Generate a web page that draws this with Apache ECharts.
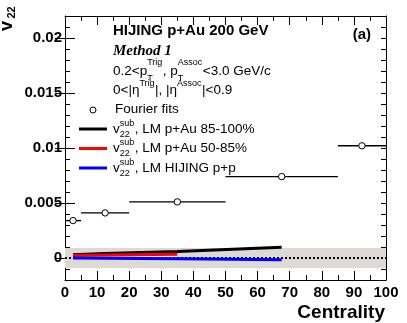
<!DOCTYPE html>
<html>
<head>
<meta charset="utf-8">
<script src="https://cdn.jsdelivr.net/npm/echarts@6/dist/echarts.min.js"></script>
<style>html,body{margin:0;padding:0;background:#fff}#main{width:407px;height:323px}</style>
</head>
<body>
<div id="main"></div>
<script>
// Fourier fits (open circles, x error = centrality bin)
var fitX = [2.5, 12.5, 35, 67.5, 92.5];
var fitLow = [0, 5, 20, 50, 85];
var fitHigh = [5, 20, 50, 85, 100];
var fitV22 = [0.0034, 0.0041, 0.0051, 0.0074, 0.0102];

// v22 sub, LM curves
var lmX = [2.5, 12.5, 35, 67.5];
var lmPAu85 = [0.0003, 0.0004, 0.0006, 0.00097];
var lmX50 = [2.5, 12.5, 35];
var lmPAu50 = [0.00022, 0.00027, 0.00035];
var lmPP = [0.0, -0.00002, -0.00006, -0.00015];

// systematic band around zero
var bandX = [0, 100];
var bandY = [-0.0009, 0.0009];

var yTickValues = [0, 0.005, 0.01, 0.015, 0.02];
var yTickLabels = ['0', '0.005', '0.01', '0.015', '0.02'];

var FONT = '"Liberation Sans", Arial, Helvetica, sans-serif';
var ctx = document.createElement('canvas').getContext('2d');
function tw(t, size, weight) {
  ctx.font = (weight || 'normal') + ' ' + size + 'px ' + FONT;
  return ctx.measureText(t).width;
}
function txt(x, y, t, size, extra) {
  var st = {text: t, fontSize: size, fontFamily: FONT, fill: '#000', align: 'left', verticalAlign: 'middle'};
  for (var k in extra) st[k] = extra[k];
  return {type: 'text', x: x, y: y, z: 100, style: st};
}
// row of text with stacked super/subscripts
function row(x, y, parts, out, supOff, subOff) {
  var MS = 13.5, SS = 9;
  parts.forEach(function(p) {
    if (typeof p === 'string') {
      out.push(txt(x, y, p, MS));
      x += tw(p, MS);
    } else {
      var w = 0;
      if (p.sup) { out.push(txt(x, y + supOff, p.sup, SS)); w = Math.max(w, tw(p.sup, SS)); }
      if (p.sub) { out.push(txt(x, y + subOff, p.sub, SS)); w = Math.max(w, tw(p.sub, SS)); }
      x += w + 0.5;
    }
  });
}

var g = [];
g.push(txt(113, 31, 'HIJING p+Au 200 GeV', 15, {fontWeight: 'bold'}));
g.push(txt(113, 51, 'Method 1', 15, {fontWeight: 'bold', fontStyle: 'italic', fontFamily: '"Liberation Serif", "Times New Roman", serif'}));
row(113, 71, ['0.2<p', {sup: 'Trig', sub: 'T'}, ', p', {sup: 'Assoc', sub: 'T'}, '<3.0 GeV/c'], g, -8, 8);
row(113, 90, ['0<|\u03b7', {sup: 'Trig'}, '|, |\u03b7', {sup: 'Assoc'}, '|<0.9'], g, -6, 6);
g.push({type: 'circle', z: 100, shape: {cx: 93, cy: 110, r: 3}, style: {fill: '#fff', stroke: '#000', lineWidth: 1}});
g.push(txt(115, 109, 'Fourier fits', 13.5));
var legRows = [
  {y: 129, color: '#000000', label: ', LM p+Au 85-100%'},
  {y: 148.5, color: '#ff0000', label: ', LM p+Au 50-85%'},
  {y: 168, color: '#0000ff', label: ', LM HIJING p+p'}
];
legRows.forEach(function(r) {
  g.push({type: 'line', z: 100, shape: {x1: 79, y1: r.y, x2: 107, y2: r.y}, style: {stroke: r.color, lineWidth: 3}});
  row(113, r.y, ['v', {sup: 'sub', sub: '22'}, r.label], g, -5.5, 5.5);
});
g.push(txt(371, 35, '(a)', 15, {fontWeight: 'bold', align: 'right'}));
g.push(txt(385, 313, 'Centrality', 19, {fontWeight: 'bold', align: 'right'}));
// y title v_22
g.push({type: 'text', x: 7.5, y: 26, rotation: Math.PI / 2, z: 100,
  style: {text: 'v', fontSize: 18, fontWeight: 'bold', fontFamily: FONT, fill: '#000', align: 'center', verticalAlign: 'middle'}});
g.push({type: 'text', x: 11.5, y: 12.5, rotation: Math.PI / 2, z: 100,
  style: {text: '22', fontSize: 11, fontWeight: 'bold', fontFamily: FONT, fill: '#000', align: 'center', verticalAlign: 'middle'}});

function xAxisDef(pos, showLabel) {
  return {
    type: 'value', position: pos, min: 0, max: 100, interval: 10,
    axisLine: {show: true, onZero: false, lineStyle: {color: '#000', width: 1}},
    axisTick: {show: true, inside: true, length: 9, lineStyle: {color: '#000'}},
    minorTick: {show: true, splitNumber: 2, length: 5, lineStyle: {color: '#000'}},
    axisLabel: {show: showLabel, color: '#000', fontSize: 15, fontWeight: 'bold', fontFamily: FONT, margin: 5},
    splitLine: {show: false}
  };
}
function yMinor(pos, showLabel) {
  return {
    type: 'value', position: pos, min: -0.002, max: 0.022, interval: 0.001,
    axisLine: {show: true, onZero: false, lineStyle: {color: '#000', width: 1}},
    axisTick: {show: true, inside: true, length: 5, lineStyle: {color: '#000'}},
    axisLabel: {show: showLabel, color: '#000', fontSize: 15, fontWeight: 'bold', fontFamily: FONT, margin: 3,
      showMinLabel: true, showMaxLabel: true,
      formatter: function(v) {
        var i = yTickValues.findIndex(function(t) { return Math.abs(t - v) < 1e-7; });
        return i >= 0 ? yTickLabels[i] : '';
      }},
    splitLine: {show: false}
  };
}
function yMajor(pos) {
  return {
    type: 'value', position: pos, min: -0.002, max: 0.022,
    axisLine: {show: false},
    axisTick: {show: true, inside: true, length: 10, customValues: yTickValues, lineStyle: {color: '#000'}},
    axisLabel: {show: false},
    splitLine: {show: false}
  };
}

var fitData = fitX.map(function(x, i) { return [x, fitV22[i], fitLow[i], fitHigh[i]]; });
function pairs(xs, ys) { return xs.map(function(x, i) { return [x, ys[i]]; }); }

var option = {
  animation: false,
  grid: {left: 65, right: 21, top: 16, bottom: 43},
  xAxis: [xAxisDef('bottom', true), xAxisDef('top', false)],
  yAxis: [yMinor('left', true), yMajor('left'), yMinor('right', false), yMajor('right')],
  graphic: g,
  series: [
    {
      type: 'custom', z: 1,
      data: [[bandX[0], bandX[1], bandY[0], bandY[1]]],
      encode: {x: [0, 1], y: [2, 3]},
      renderItem: function(params, api) {
        var p1 = api.coord([api.value(0), api.value(3)]);
        var p2 = api.coord([api.value(1), api.value(2)]);
        return {type: 'rect', shape: {x: p1[0], y: p1[1], width: p2[0] - p1[0], height: p2[1] - p1[1]},
          style: {fill: '#ddd9d5'}};
      }
    },
    {type: 'line', z: 2, symbol: 'none', data: [[0, 0], [100, 0]],
      lineStyle: {color: '#000', width: 2, type: [2, 2]}},
    {type: 'line', z: 3, symbol: 'none', data: pairs(lmX, lmPAu85), lineStyle: {color: '#000000', width: 3}},
    {type: 'line', z: 4, symbol: 'none', data: pairs(lmX50, lmPAu50), lineStyle: {color: '#ff0000', width: 3}},
    {type: 'line', z: 5, symbol: 'none', data: pairs(lmX, lmPP), lineStyle: {color: '#0000ff', width: 3}},
    {
      type: 'custom', z: 6,
      data: fitData,
      encode: {x: [0, 2, 3], y: 1},
      renderItem: function(params, api) {
        var c = api.coord([api.value(0), api.value(1)]);
        var a = api.coord([api.value(2), api.value(1)]);
        var b = api.coord([api.value(3), api.value(1)]);
        return {type: 'group', children: [
          {type: 'line', shape: {x1: a[0], y1: a[1], x2: b[0], y2: b[1]}, style: {stroke: '#000', lineWidth: 1.4}},
          {type: 'circle', shape: {cx: c[0], cy: c[1], r: 3.2}, style: {fill: '#fff', stroke: '#000', lineWidth: 1}}
        ]};
      }
    }
  ]
};
echarts.init(document.getElementById('main')).setOption(option);
</script>
</body>
</html>
